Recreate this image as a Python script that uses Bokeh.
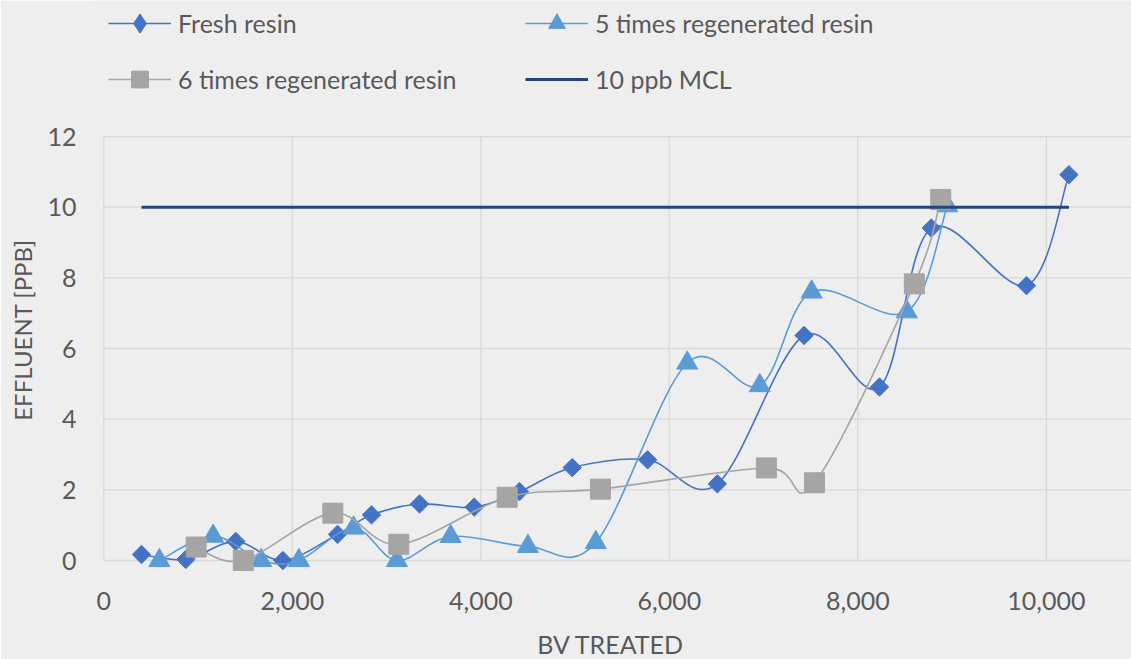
import numpy as np
from bokeh.plotting import figure
from bokeh.models import Range1d, FixedTicker, NumeralTickFormatter, Legend, LegendItem
from bokeh.embed import file_html
from bokeh.resources import INLINE

# ---- data ----
fresh_x = [400, 870, 1400, 1900, 2480, 2840, 3350, 3930, 4410, 4970, 5770, 6510, 7430, 8230, 8780, 9790, 10240]
fresh_y = [0.17, 0.03, 0.54, 0.0, 0.74, 1.29, 1.60, 1.51, 1.95, 2.63, 2.85, 2.17, 6.37, 4.91, 9.41, 7.78, 10.92]

regen5_x = [590, 1160, 1670, 2070, 2650, 3110, 3680, 4500, 5220, 6190, 6960, 7510, 8520, 8950]
regen5_y = [0.0, 0.69, 0.0, 0.0, 0.92, 0.0, 0.68, 0.40, 0.51, 5.59, 4.95, 7.60, 7.04, 10.04]

regen6_x = [980, 1480, 2430, 3130, 4280, 5270, 7030, 7540, 8600, 8880]
regen6_y = [0.38, 0.0, 1.34, 0.46, 1.79, 2.02, 2.62, 2.20, 7.83, 10.22]

mcl_x = [400, 10240]
mcl_y = [10, 10]

x_ticks = [0, 2000, 4000, 6000, 8000, 10000]
y_ticks = [0, 2, 4, 6, 8, 10, 12]

labels = ["Fresh resin", "5 times regenerated resin", "6 times regenerated resin", "10 ppb MCL"]
colors = ["#4472C4", "#5B9BD5", "#A5A5A5", "#264478"]

BG = "#EFEEEF"
GRID = "#D9D8D9"
TXT = "#595959"
FONT = "Lato"


def smooth(xs, ys, t=1.0 / 6.0):
    """Bezier segments through the points (cardinal spline, like a smoothed line)."""
    xs = np.asarray(xs, float)
    ys = np.asarray(ys, float)
    n = len(xs)
    out = {k: [] for k in ("x0", "y0", "x1", "y1", "cx0", "cy0", "cx1", "cy1")}
    for i in range(n - 1):
        im = max(i - 1, 0)
        ip = min(i + 2, n - 1)
        out["x0"].append(xs[i]); out["y0"].append(ys[i])
        out["x1"].append(xs[i + 1]); out["y1"].append(ys[i + 1])
        out["cx0"].append(xs[i] + (xs[i + 1] - xs[im]) * t)
        out["cy0"].append(ys[i] + (ys[i + 1] - ys[im]) * t)
        out["cx1"].append(xs[i + 1] - (xs[ip] - xs[i]) * t)
        out["cy1"].append(ys[i + 1] - (ys[ip] - ys[i]) * t)
    return out


W, H = 1131, 659
FRAME_H = H          # frame covers the full height; the x axis is pinned at y = 0
PY = 35.33           # pixels per y unit
ZERO_Y = 560         # canvas row of y = 0
PXX = 0.09425        # pixels per x unit
ZERO_X = 103.3       # canvas column of x = 0
LEFT = 90            # frame left edge (a bit left of x = 0 so the "0" label is not clipped)
X0 = -(ZERO_X - LEFT) / PXX
X1 = (W - ZERO_X) / PXX

p = figure(width=W, height=H, output_backend="svg", toolbar_location=None,
           x_range=Range1d(X0, X1), y_range=Range1d(-(H - ZERO_Y) / PY, ZERO_Y / PY),
           min_border_left=LEFT, min_border_right=0, min_border_top=0, min_border_bottom=0)
p.background_fill_color = BG
p.border_fill_color = BG
p.outline_line_color = None

# grid (drawn only over the data area 0..X1, 0..12)
p.xgrid.visible = False
p.ygrid.visible = False
p.segment(x0=[0] * len(y_ticks), y0=y_ticks, x1=[X1] * len(y_ticks), y1=y_ticks,
          line_color=GRID, line_width=1.3)
p.segment(x0=x_ticks, y0=[0] * len(x_ticks), x1=x_ticks, y1=[12] * len(x_ticks),
          line_color=GRID, line_width=1.3)

# axes
for ax in (p.xaxis[0], p.yaxis[0]):
    ax.axis_line_color = None
    ax.major_tick_line_color = None
    ax.minor_tick_line_color = None
    ax.major_label_text_font = FONT
    ax.major_label_text_font_size = "25px"
    ax.major_label_text_color = TXT
    ax.axis_label_text_font = FONT
    ax.axis_label_text_font_style = "normal"
    ax.axis_label_text_color = TXT

p.xaxis.fixed_location = 0
p.xaxis.ticker = FixedTicker(ticks=x_ticks)
p.xaxis.formatter = NumeralTickFormatter(format="0,0")
p.xaxis.major_label_standoff = 25
p.xaxis.axis_label = "BV TREATED"
p.xaxis.axis_label_text_font_size = "25px"
p.xaxis.axis_label_standoff = 16

p.yaxis.ticker = FixedTicker(ticks=y_ticks)
p.yaxis.major_label_standoff = 8
p.yaxis.axis_label = "EFFLUENT [PPB]"
p.yaxis.axis_label_text_font_size = "24px"
p.yaxis.axis_label_standoff = 7

# series
s1 = smooth(fresh_x, fresh_y)
l1 = p.bezier(line_color=colors[0], line_width=1.6, **s1)
# legend swatch for the diamond marker (hidden under the first real marker)
d1 = p.scatter(fresh_x[:1], fresh_y[:1], marker="diamond", size=8,
               fill_color=colors[0], line_color=colors[0])
m1 = p.scatter(fresh_x, fresh_y, marker="square", angle=np.pi / 4, size=13,
               fill_color=colors[0], line_color=colors[0])

s2 = smooth(regen5_x, regen5_y)
l2 = p.bezier(line_color=colors[1], line_width=1.6, **s2)
m2 = p.scatter(regen5_x, regen5_y, marker="triangle", size=21,
               fill_color=colors[1], line_color=colors[1])

s3 = smooth(regen6_x, regen6_y)
l3 = p.bezier(line_color=colors[2], line_width=1.6, **s3)
m3 = p.scatter(regen6_x, regen6_y, marker="square", size=20,
               fill_color=colors[2], line_color=colors[2])

l4 = p.line(mcl_x, mcl_y, line_color=colors[3], line_width=3)


# legend: four single-item legends placed like the reference (inside the tall frame)
def add_legend(label, renderers, x, row_center, gh=42):
    lg = Legend(items=[LegendItem(label=label, renderers=renderers)],
                location=(x, FRAME_H - row_center - gh / 2),
                glyph_width=63, glyph_height=gh, label_standoff=7,
                label_text_font=FONT, label_text_font_size="25px", label_text_color=TXT,
                padding=0, margin=0, spacing=0, border_line_color=None,
                background_fill_alpha=0)
    p.add_layout(lg, "center")


add_legend(labels[0], [l1, d1], 108 - LEFT, 23.3, gh=48)
add_legend(labels[1], [l2, m2], 525 - LEFT, 23.3)
add_legend(labels[2], [l3, m3], 108 - LEFT, 79)
add_legend(labels[3], [l4], 525 - LEFT, 79)

open("out.html", "w").write(file_html(p, INLINE))
